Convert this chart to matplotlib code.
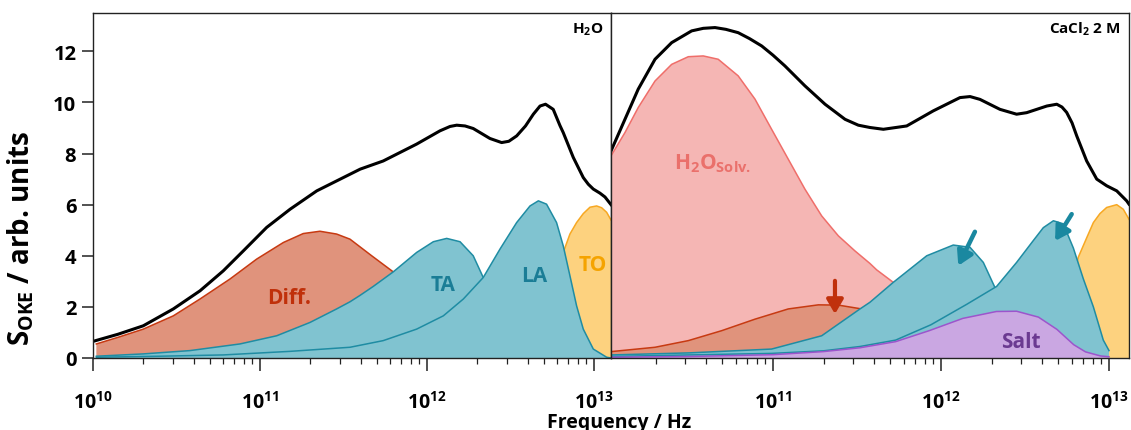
import numpy as np
import matplotlib
matplotlib.use("Agg")
import matplotlib.pyplot as plt
from matplotlib.ticker import LogLocator, NullFormatter, FixedLocator

plt.rcParams['font.family'] = ['Open Sans', 'DejaVu Sans']
plt.rcParams['font.weight'] = 'bold'
plt.rcParams['mathtext.fontset'] = 'custom'
plt.rcParams['mathtext.rm'] = 'Open Sans:bold'
plt.rcParams['mathtext.bf'] = 'Open Sans:bold'
plt.rcParams['mathtext.it'] = 'Open Sans:bold'
plt.rcParams['mathtext.default'] = 'bf'

# ---------------- data (log10 of frequency in Hz, amplitude) ----------------
# Left panel: H2O
h2o_total_logf = [10.0, 10.15, 10.301, 10.481, 10.641, 10.78, 10.90, 11.04, 11.18, 11.34, 11.499, 11.60,
                  11.738, 11.838, 11.938, 12.078, 12.138, 12.178, 12.228, 12.277, 12.377, 12.447, 12.49,
                  12.537, 12.59, 12.637, 12.677, 12.710, 12.756, 12.796, 12.816, 12.876, 12.936, 12.966,
                  12.996, 13.036, 13.066, 13.102]
h2o_total = [0.65, 0.93, 1.26, 1.92, 2.63, 3.41, 4.19, 5.11, 5.82, 6.54, 7.06, 7.39,
             7.71, 8.04, 8.37, 8.89, 9.06, 9.11, 9.08, 8.98, 8.59, 8.43, 8.48,
             8.69, 9.08, 9.54, 9.86, 9.93, 9.73, 9.10, 8.82, 7.85, 7.06, 6.80,
             6.61, 6.45, 6.30, 6.00]

h2o_diff_logf = [10.02, 10.15, 10.301, 10.481, 10.641, 10.82, 10.98, 11.14, 11.259, 11.359, 11.459, 11.539,
                 11.599, 11.669, 11.798, 11.9, 12.0, 12.2, 12.4, 12.6, 12.8, 13.0, 13.102]
h2o_diff = [0.55, 0.81, 1.13, 1.65, 2.31, 3.09, 3.87, 4.52, 4.87, 4.96, 4.85, 4.65,
            4.35, 4.0, 3.37, 2.9, 2.4, 1.5, 0.8, 0.35, 0.12, 0.03, 0.01]

h2o_ta_logf = [10.02, 10.3, 10.581, 10.88, 11.10, 11.299, 11.459, 11.539, 11.599, 11.678, 11.798, 11.938,
               12.038, 12.118, 12.198, 12.277, 12.337, 12.4, 12.5, 12.6, 12.7, 12.8, 13.0, 13.102]
h2o_ta = [0.07, 0.16, 0.29, 0.55, 0.87, 1.39, 1.92, 2.2, 2.45, 2.80, 3.37, 4.13,
          4.55, 4.68, 4.55, 4.00, 3.15, 2.3, 1.2, 0.5, 0.2, 0.05, 0.0, 0.0]

h2o_la_logf = [10.02, 10.4, 10.78, 11.18, 11.539, 11.738, 11.938, 12.098, 12.218, 12.337, 12.437, 12.537,
               12.617, 12.667, 12.716, 12.776, 12.816, 12.856, 12.896, 12.936, 12.996, 13.076, 13.102]
h2o_la = [0.03, 0.07, 0.12, 0.26, 0.42, 0.68, 1.13, 1.65, 2.31, 3.15, 4.26, 5.30,
          5.95, 6.15, 6.02, 5.30, 4.39, 3.22, 2.04, 1.13, 0.35, 0.03, 0.0]

h2o_to_logf = [12.4, 12.5, 12.6, 12.7, 12.76, 12.816, 12.856, 12.896, 12.936, 12.976, 13.016, 13.046,
               13.076, 13.102]
h2o_to = [0.0, 0.3, 1.0, 2.2, 3.2, 4.13, 4.85, 5.30, 5.65, 5.90, 5.95, 5.88, 5.70, 5.40]

# Right panel: CaCl2 2 M
cacl_total_logf = [10.036, 10.119, 10.198, 10.298, 10.397, 10.516, 10.585, 10.655, 10.72, 10.793, 10.86,
                   10.933, 11.0, 11.071, 11.19, 11.31, 11.429, 11.508, 11.577, 11.657, 11.796, 11.954,
                   12.113, 12.173, 12.232, 12.351, 12.45, 12.51, 12.57, 12.63, 12.689, 12.72, 12.748,
                   12.78, 12.808, 12.867, 12.927, 12.986, 13.046, 13.105, 13.119]
cacl_total = [8.10, 9.34, 10.52, 11.69, 12.34, 12.80, 12.90, 12.93, 12.86, 12.73, 12.50,
              12.21, 11.85, 11.43, 10.65, 9.93, 9.34, 9.11, 9.02, 8.95, 9.08, 9.67,
              10.19, 10.23, 10.12, 9.73, 9.54, 9.60, 9.73, 9.86, 9.93, 9.82, 9.61,
              9.20, 8.69, 7.71, 7.00, 6.74, 6.54, 6.15, 6.02]

cacl_solv_logf = [10.036, 10.119, 10.198, 10.298, 10.397, 10.496, 10.585, 10.674, 10.793, 10.893, 10.992,
                  11.091, 11.19, 11.29, 11.389, 11.488, 11.577, 11.617, 11.716, 11.8, 12.0, 12.2, 12.4,
                  12.6, 12.8, 13.0]
cacl_solv = [7.91, 8.82, 9.80, 10.84, 11.49, 11.79, 11.82, 11.69, 11.04, 10.13, 8.95,
             7.78, 6.61, 5.56, 4.78, 4.19, 3.70, 3.45, 2.96, 2.5, 1.6, 0.9, 0.45,
             0.2, 0.08, 0.02]

cacl_diff_logf = [10.036, 10.298, 10.496, 10.695, 10.893, 11.091, 11.27, 11.389, 11.528, 11.6, 11.8, 12.0,
                  12.2, 12.5, 12.8, 13.0]
cacl_diff = [0.25, 0.42, 0.68, 1.07, 1.52, 1.92, 2.08, 2.07, 1.92, 1.75, 1.1, 0.6,
             0.3, 0.08, 0.02, 0.0]

cacl_ta1_logf = [10.036, 10.5, 10.992, 11.29, 11.518, 11.577, 11.716, 11.915, 12.073, 12.173, 12.252, 12.321,
                 12.4, 12.5, 12.6, 12.8, 13.0]
cacl_ta1 = [0.12, 0.2, 0.35, 0.87, 1.92, 2.18, 2.96, 4.00, 4.42, 4.33, 3.74, 2.76,
            1.6, 0.8, 0.35, 0.08, 0.0]

cacl_ta2_logf = [10.036, 10.5, 10.992, 11.3, 11.518, 11.73, 11.94, 12.153, 12.331, 12.45, 12.55, 12.609,
                 12.669, 12.728, 12.788, 12.847, 12.907, 12.966, 13.0]
cacl_ta2 = [0.06, 0.12, 0.18, 0.28, 0.45, 0.7, 1.3, 2.1, 2.8, 3.74, 4.6, 5.1,
            5.37, 5.25, 4.3, 3.1, 2.0, 0.7, 0.29]

cacl_salt_logf = [10.036, 10.5, 11.0, 11.3, 11.518, 11.73, 11.93, 12.13, 12.33, 12.45, 12.58, 12.69, 12.79,
                  12.86, 12.95, 13.0]
cacl_salt = [0.03, 0.06, 0.13, 0.25, 0.40, 0.64, 1.07, 1.55, 1.82, 1.83, 1.60, 1.12, 0.52,
             0.24, 0.08, 0.05]

cacl_to_logf = [12.5, 12.6, 12.7, 12.78, 12.817, 12.867, 12.907, 12.946, 12.986, 13.046, 13.085, 13.119]
cacl_to = [0.0, 0.5, 1.6, 3.0, 3.94, 4.7, 5.30, 5.65, 5.89, 6.0, 5.82, 5.43]

# arrows (log10 f start, y start, log10 f end, y end)
red_arrow = [11.369, 3.02, 11.369, 1.72]
teal_arrows = [[12.202, 4.94, 12.103, 3.61], [12.778, 5.63, 12.679, 4.58]]

# ticks
x_tick_values = [1e10, 1e11, 1e12, 1e13]
x_tick_labels = [r'$\mathbf{10^{10}}$', r'$\mathbf{10^{11}}$', r'$\mathbf{10^{12}}$', r'$\mathbf{10^{13}}$']
y_tick_values = [0, 2, 4, 6, 8, 10, 12]
y_tick_labels = ['0', '2', '4', '6', '8', '10', '12']

left_xlim_log = [10.0, 13.102]
right_xlim_log = [10.036, 13.119]
ylim = [0, 13.5]

# ---------------- styles ----------------
C_DIFF_F, C_DIFF_E = '#e0937c', '#c73a12'
C_TEAL_F, C_TEAL_E = '#80c3d0', '#1f8ca3'
C_TO_F, C_TO_E = '#fdd27f', '#f7a823'
C_SOLV_F, C_SOLV_E = '#f5b6b4', '#ef6e6a'
C_SALT_F, C_SALT_E = '#caa7e2', '#9c55cc'

W, H = 1131, 431
fig = plt.figure(figsize=(W / 100, H / 100), dpi=100)
ax1 = fig.add_axes([93 / W, 72 / H, 518 / W, 345 / H])
ax2 = fig.add_axes([611 / W, 72 / H, 518 / W, 345 / H])


def layer(ax, logf, vals, fc, ec, z):
    f = 10 ** np.asarray(logf)
    ax.fill_between(f, 0, vals, facecolor=fc, edgecolor='none', zorder=z)
    ax.plot(f, vals, color=ec, lw=1.1, zorder=z + 0.1, solid_joinstyle='round')


# left panel
layer(ax1, h2o_diff_logf, h2o_diff, C_DIFF_F, C_DIFF_E, 1)
layer(ax1, h2o_ta_logf, h2o_ta, C_TEAL_F, C_TEAL_E, 2)
layer(ax1, h2o_to_logf, h2o_to, C_TO_F, C_TO_E, 3)
layer(ax1, h2o_la_logf, h2o_la, C_TEAL_F, C_TEAL_E, 4)
ax1.plot(10 ** np.asarray(h2o_total_logf), h2o_total, color='black', lw=2.2, zorder=6,
         solid_joinstyle='round')

# right panel
layer(ax2, cacl_solv_logf, cacl_solv, C_SOLV_F, C_SOLV_E, 1)
layer(ax2, cacl_diff_logf, cacl_diff, C_DIFF_F, C_DIFF_E, 2)
layer(ax2, cacl_ta1_logf, cacl_ta1, C_TEAL_F, C_TEAL_E, 3)
layer(ax2, cacl_to_logf, cacl_to, C_TO_F, C_TO_E, 4)
layer(ax2, cacl_ta2_logf, cacl_ta2, C_TEAL_F, C_TEAL_E, 5)
layer(ax2, cacl_salt_logf, cacl_salt, C_SALT_F, C_SALT_E, 6)
ax2.plot(10 ** np.asarray(cacl_total_logf), cacl_total, color='black', lw=2.2, zorder=8,
         solid_joinstyle='round')

# arrows
ax2.annotate('', xy=(10 ** red_arrow[2], red_arrow[3]), xytext=(10 ** red_arrow[0], red_arrow[1]),
             arrowprops=dict(arrowstyle='-|>,head_width=0.35,head_length=0.6', lw=3.0,
                             color='#c0300c', shrinkA=0, shrinkB=0, mutation_scale=14), zorder=9)
for a in teal_arrows:
    ax2.annotate('', xy=(10 ** a[2], a[3]), xytext=(10 ** a[0], a[1]),
                 arrowprops=dict(arrowstyle='-|>,head_width=0.35,head_length=0.6', lw=3.2,
                                 color='#1a88a0', shrinkA=0, shrinkB=0, mutation_scale=14), zorder=9)

# labels inside
lab = dict(fontsize=15, fontweight='bold', ha='center', va='center', zorder=10)
ax1.text(10 ** 11.174, 2.38, 'Diff.', color='#c0300a', **lab)
ax1.text(10 ** 12.096, 2.89, 'TA', color='#1a7d96', **lab)
ax1.text(10 ** 12.641, 3.24, 'LA', color='#1a7d96', **lab)
ax1.text(10 ** 12.994, 3.64, 'TO', color='#f5a300', **lab)
ax2.text(10 ** 10.643, 7.66, r'$\mathbf{H_2O_{Solv.}}$', color='#ea706b', **lab)
ax2.text(10 ** 12.476, 0.66, 'Salt', color='#6b3a91', **lab)

ax1.text(0.985, 0.955, r'$\mathbf{H_2O}$', transform=ax1.transAxes, ha='right', va='center',
         fontsize=11, color='black')
ax2.text(0.983, 0.955, r'$\mathbf{CaCl_2}$ 2 M', transform=ax2.transAxes, ha='right', va='center',
         fontsize=11, fontweight='bold', color='black')

for ax, xl in ((ax1, left_xlim_log), (ax2, right_xlim_log)):
    ax.set_xscale('log')
    ax.xaxis.set_major_locator(FixedLocator(x_tick_values))
    ax.set_xticks(x_tick_values)
    ax.set_xticklabels(x_tick_labels)
    ax.xaxis.set_minor_locator(LogLocator(base=10, subs=np.arange(2, 10)))
    ax.xaxis.set_minor_formatter(NullFormatter())
    ax.set_xlim(10 ** xl[0], 10 ** xl[1])
    ax.set_ylim(*ylim)
    for s in ax.spines.values():
        s.set_linewidth(1.0)
        s.set_color('#222222')
        s.set_zorder(12)
    ax.tick_params(axis='x', which='major', direction='out', length=9, width=1.1, pad=15,
                   labelsize=14, colors='#222222', labelcolor='black')
    ax.tick_params(axis='x', which='minor', direction='out', length=4, width=0.9, colors='#222222')

ax1.set_yticks(y_tick_values)
ax1.set_yticklabels(y_tick_labels)
ax1.set_ylim(*ylim)
ax1.tick_params(axis='y', direction='out', length=8, width=1.1, pad=4, labelsize=14.5,
                colors='#222222', labelcolor='black')
for t in ax1.get_yticklabels():
    t.set_fontweight('bold')
ax2.tick_params(axis='y', left=False, labelleft=False)

fig.text(21 / W, 1 - 238 / H, r'$\mathbf{S_{OKE}}$ / arb. units', rotation=90, ha='center', va='center',
         fontsize=20, fontweight='bold')
fig.text(619 / W, 1 - 428 / H, 'Frequency / Hz', ha='center', va='baseline', fontsize=14,
         fontweight='bold')

fig.savefig('out.png', dpi=100)
